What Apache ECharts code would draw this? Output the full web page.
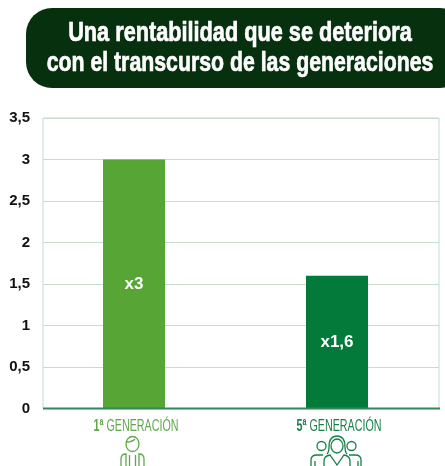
<!DOCTYPE html>
<html>
<head>
<meta charset="utf-8">
<style>
  html, body { margin: 0; padding: 0; background: #fff; }
  #chart { width: 445px; height: 466px; }
</style>
</head>
<body>
<div id="chart"></div>
<script src="https://cdn.jsdelivr.net/npm/echarts@6/dist/echarts.min.js"></script>
<script>
const titleLines = ['Una rentabilidad que se deteriora', 'con el transcurso de las generaciones']
const categories = ['1ª GENERACIÓN', '5ª GENERACIÓN']
const ordinals = ['1ª', '5ª']
const values = [3, 1.6]
const barLabels = ['x3', 'x1,6']
const barColors = ['#57a535', '#03793a']
const labelColors = ['#5fa84a', '#168048']

const sans = '"Liberation Sans", sans-serif'
const chart = echarts.init(document.getElementById('chart'))

// iconos de las generaciones
const icon1 = 'M126 444a6.5 7.5 0 1 0 13 0a6.5 7.5 0 1 0 -13 0M127 442q5 0 8 -3M121 466v-7q0 -5 5 -5v12M144 466v-7q0 -5 -5 -5v12M129.5 466v-11M135.5 466v-11'
const icon5 = 'M317 446a4.5 4.5 0 1 0 9 0a4.5 4.5 0 1 0 -9 0M347 446a4.5 4.5 0 1 0 9 0a4.5 4.5 0 1 0 -9 0M329 447q0 -11 8 -11q8 0 8 11q0 5 2 7M329 447q0 5 -2 7M331 446a6 7 0 1 0 12 0a6 7 0 1 0 -12 0M311 466v-6q0 -5 6 -5h6M361 466v-6q0 -5 -6 -5h-6M324 466v-5q0 -5 6 -6l7 10l7 -10q6 1 6 6v5M315 466v-5M358 466v-5'
echarts.graphic.registerShape('icon1', echarts.graphic.extendPath(icon1))
echarts.graphic.registerShape('icon5', echarts.graphic.extendPath(icon5))

const option = {
  animation: false,
  backgroundColor: '#fff',
  grid: [
    // rejilla visible
    { left: 43, right: 6, top: 118, bottom: 57.5, show: true, borderColor: '#c6dccc', borderWidth: 1 },
    // rejilla de las barras
    { left: 32.5, right: 6.5, top: 118, bottom: 57.5 }
  ],
  xAxis: [
    { gridIndex: 0, type: 'category', data: categories, show: false },
    {
      gridIndex: 1,
      type: 'category',
      data: categories,
      axisTick: { show: false },
      axisLine: { show: false },
      axisLabel: { show: false }
    }
  ],
  yAxis: [
    {
      gridIndex: 0,
      type: 'value',
      min: 0,
      max: 3.5,
      interval: 0.5,
      axisLine: { show: false },
      axisTick: { show: false },
      axisLabel: {
        margin: 13,
        padding: [3, 0, 0, 0],
        color: '#111',
        fontFamily: sans,
        fontWeight: 'bold',
        fontSize: 15,
        formatter: (v) => String(v).replace('.', ',')
      },
      splitLine: { lineStyle: { color: '#c6dccc', width: 1 } }
    },
    { gridIndex: 1, type: 'value', min: 0, max: 3.5, interval: 0.5, show: false, splitLine: { show: false } }
  ],
  series: [
    {
      type: 'bar',
      xAxisIndex: 1,
      yAxisIndex: 1,
      barWidth: 62,
      data: values.map((v, i) => ({ value: v, itemStyle: { color: barColors[i] } })),
      label: {
        show: true,
        position: 'inside',
        color: '#fff',
        fontFamily: sans,
        fontWeight: 'bold',
        fontSize: 17,
        formatter: (p) => barLabels[p.dataIndex]
      },
      z: 3
    }
  ]
}
chart.setOption(option)

// el texto condensado se consigue con scaleX
const categoryLabel = (i) => ({
  type: 'text',
  x: chart.convertToPixel({ xAxisIndex: 1 }, i) + 2,
  y: 426,
  scaleX: 0.63,
  z: 11,
  style: {
    text: `{n|${ordinals[i]}}{t| GENERACIÓN}`,
    textAlign: 'center',
    textVerticalAlign: 'middle',
    rich: {
      n: { font: 'bold 17px ' + sans, fill: labelColors[i] },
      t: { font: '17px ' + sans, fill: labelColors[i] }
    }
  }
})

chart.setOption({
  graphic: [
    // banda del título
    { type: 'rect', shape: { x: 26, y: 8, width: 440, height: 80, r: 26 }, style: { fill: '#07300f' }, z: 10 },
    {
      type: 'text', x: 240, y: 33, scaleX: 0.775, z: 11,
      style: { text: titleLines[0], fill: '#fff', stroke: '#fff', lineWidth: 0.7, font: 'bold 28px ' + sans, textAlign: 'center', textVerticalAlign: 'middle' }
    },
    {
      type: 'text', x: 240, y: 63, scaleX: 0.76, z: 11,
      style: { text: titleLines[1], fill: '#fff', stroke: '#fff', lineWidth: 0.7, font: 'bold 28px ' + sans, textAlign: 'center', textVerticalAlign: 'middle' }
    },
    // eje inferior
    { type: 'line', shape: { x1: 43, y1: 408.5, x2: 440, y2: 408.5 }, style: { stroke: '#2f8a55', lineWidth: 2 }, z: 12 },
    categoryLabel(0),
    categoryLabel(1),
    { type: 'icon1', style: { stroke: labelColors[0], lineWidth: 1.3, fill: 'none' }, z: 5 },
    { type: 'icon5', style: { stroke: labelColors[1], lineWidth: 1.3, fill: 'none' }, z: 5 }
  ]
})
</script>
</body>
</html>
